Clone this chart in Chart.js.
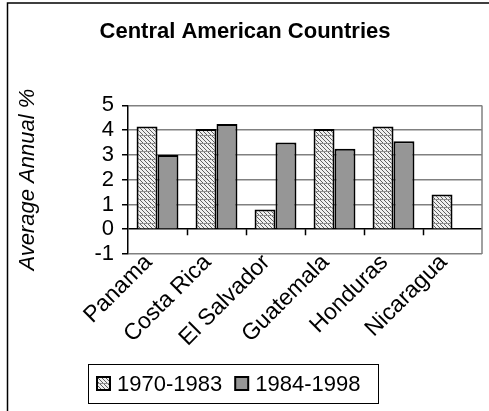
<!DOCTYPE html>
<html>
<head>
<meta charset="utf-8">
<script src="https://cdn.jsdelivr.net/npm/chart.js@4"></script>
<style>
  html, body { margin: 0; padding: 0; background: #fff; }
  #wrap { width: 489px; height: 411px; position: relative; }
</style>
</head>
<body>
<div id="wrap"><canvas id="c"></canvas></div>
<script>
const countries = ["Panama", "Costa Rica", "El Salvador", "Guatemala", "Honduras", "Nicaragua"];
const period1 = [4.15, 4.05, 0.8, 4.05, 4.15, 1.4];
const period2 = [3.0, 4.25, 3.5, 3.25, 3.55, null];
const seriesNames = ["1970-1983", "1984-1998"];
const yTicks = [-1, 0, 1, 2, 3, 4, 5];

const FONT = "Arial, 'Liberation Sans', sans-serif";

// hatched fill like the old excel pattern
function makePattern() {
  const p = document.createElement("canvas");
  p.width = 4; p.height = 8;
  const g = p.getContext("2d");
  g.fillStyle = "#f0f0f0";
  g.fillRect(0, 0, 4, 8);
  g.fillStyle = "#606060";
  for (let i = 0; i < 8; i++) g.fillRect(i % 4, i, 1, 1);
  g.fillStyle = "#909090";
  g.fillRect(0, 7, 4, 1);
  return g.createPattern(p, "repeat");
}
const hatch = makePattern();
const solidGray = "#969696";

const decor = {
  id: "decor",
  beforeDraw(chart) {
    const ctx = chart.ctx;
    ctx.save();
    ctx.strokeStyle = "#000";
    ctx.lineWidth = 1.5;
    ctx.beginPath();
    ctx.moveTo(7.5, chart.height);
    ctx.lineTo(7.5, 3);
    ctx.lineTo(chart.width, 3);
    ctx.stroke();
    ctx.restore();
  },
  beforeDatasetsDraw(chart) {
    const { ctx, chartArea: a, scales } = chart;
    ctx.save();
    ctx.strokeStyle = "#808080";
    ctx.lineWidth = 1.5;
    ctx.beginPath();
    ctx.moveTo(a.right, a.top);
    ctx.lineTo(a.right, a.bottom);
    ctx.stroke();
    // category ticks sit on the zero line
    const y0 = scales.y.getPixelForValue(0);
    const step = (a.right - a.left) / countries.length;
    ctx.strokeStyle = "#000";
    ctx.lineWidth = 1.5;
    ctx.beginPath();
    for (let i = 1; i < countries.length; i++) {
      const x = Math.round(a.left + i * step) + 0.5;
      ctx.moveTo(x, y0);
      ctx.lineTo(x, y0 + 6);
    }
    ctx.stroke();
    ctx.restore();
  },
  afterDraw(chart) {
    const ctx = chart.ctx;
    const ds = chart.data.datasets;
    ctx.save();
    ctx.strokeStyle = "#000";
    ctx.lineWidth = 1;
    ctx.strokeRect(88.5, 364.5, 290, 39);
    ctx.font = "22px " + FONT;
    ctx.textBaseline = "middle";
    ctx.fillStyle = "#000";
    let x = 97;
    const cy = 384;
    ds.forEach(d => {
      ctx.fillStyle = d.backgroundColor;
      ctx.fillRect(x, cy - 7, 13, 13);
      ctx.lineWidth = 2;
      ctx.strokeRect(x, cy - 7, 13, 13);
      ctx.fillStyle = "#000";
      ctx.fillText(d.label, x + 20, cy + 1);
      x += 20 + ctx.measureText(d.label).width + 13;
    });
    ctx.restore();
  }
};

new Chart(document.getElementById("c"), {
  type: "bar",
  data: {
    labels: countries,
    datasets: [
      { label: seriesNames[0], data: period1, backgroundColor: hatch, borderColor: "#000", borderWidth: 2 },
      { label: seriesNames[1], data: period2, backgroundColor: solidGray, borderColor: "#000", borderWidth: 2 }
    ]
  },
  options: {
    responsive: true,
    maintainAspectRatio: false,
    animation: false,
    layout: { padding: { left: 8, right: 7, top: 0, bottom: 57 } },
    datasets: { bar: { categoryPercentage: 0.71, barPercentage: 1 } },
    plugins: {
      legend: { display: false },
      tooltip: { enabled: false },
      title: {
        display: true,
        text: "Central American Countries",
        color: "#000",
        font: { family: FONT, size: 22, weight: "bold" },
        padding: { top: 19, bottom: 60 }
      }
    },
    scales: {
      x: {
        grid: { display: false, drawTicks: false },
        border: { display: false },
        ticks: {
          color: "#000",
          font: { family: FONT, size: 23 },
          maxRotation: 45,
          minRotation: 45,
          autoSkip: false,
          padding: -5,
          labelOffset: -9
        },
        afterFit(s) { s.height = 100; }
      },
      y: {
        min: -1,
        max: 5,
        afterBuildTicks(s) { s.ticks = yTicks.map(v => ({ value: v })); },
        grid: {
          color: c => c.tick && c.tick.value === 0 ? "#000" : "#808080",
          lineWidth: 1.5,
          tickColor: "#000",
          tickLength: 6
        },
        border: { color: "#000", width: 1.5 },
        ticks: { color: "#000", font: { family: FONT, size: 22 }, padding: 8, autoSkip: false },
        title: {
          display: true,
          text: "Average Annual %",
          color: "#000",
          font: { family: FONT, size: 22, style: "italic" },
          padding: { top: 7, bottom: 0 }
        },
        afterFit(s) { s.width = 120; }
      }
    }
  },
  plugins: [decor]
});
</script>
</body>
</html>
